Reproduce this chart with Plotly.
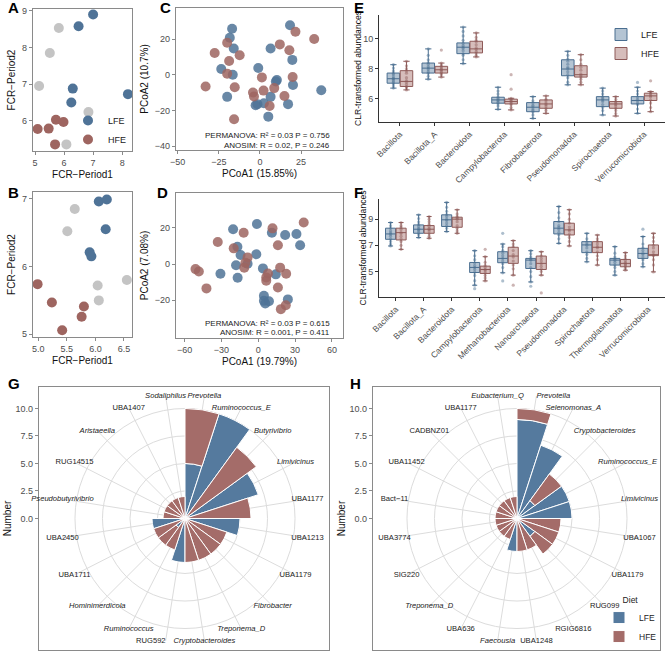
import plotly.graph_objects as go

W, H = 666, 653
BLUE = "#4F7397"
BROWN = "#9E6560"
GRAY = "#C4C4C4"
BAR_BLUE = "#557A9E"
BAR_BROWN = "#A46C69"
FONT = "Liberation Sans, Arial, sans-serif"

# ---------------- Panel A ----------------
A_lfe_x = [7.0, 6.5, 6.3, 6.25, 8.2]
A_lfe_y = [8.9, 8.58, 6.88, 6.5, 6.73]
A_mid_x = [5.82, 5.51, 5.14, 6.84, 6.08]
A_mid_y = [8.53, 7.85, 6.95, 6.24, 5.36]
A_hfe_x = [5.72, 5.98, 5.09, 5.47, 5.69]
A_hfe_y = [6.03, 5.97, 5.78, 5.79, 5.36]

# ---------------- Panel B ----------------
B_lfe_x = [6.06, 6.20, 6.18, 5.90, 5.93]
B_lfe_y = [6.96, 6.99, 6.55, 6.21, 6.15]
B_mid_x = [5.64, 5.51, 6.04, 6.06, 6.55]
B_mid_y = [6.85, 6.52, 5.72, 5.50, 5.80]
B_hfe_x = [4.99, 5.24, 5.80, 5.76, 5.42]
B_hfe_y = [5.74, 5.47, 5.41, 5.26, 5.06]

# ---------------- Panel C ----------------
C_lfe_x = [-16.9, -18.3, -15.9, -23.5, -16.5, -19.9, 18.3, 6.5, 19.7, -1.0, 10.3, 9.7, 20.1, 37.3, 6.5, 2.4, -2.6, -1.5, 17.1, 5.1]
C_lfe_y = [25.8, 20.7, 14.7, 3.2, 0.0, -12.4, 27.7, 14.7, 8.3, 3.8, -3.0, -3.8, -5.8, -8.7, -12.4, -16.0, -17.1, -16.5, -16.5, -23.5]
C_hfe_x = [-33.0, -27.5, -19.9, -18.7, -19.9, -12.3, -15.3, -15.7, -4.2, -3.6, 1.2, 2.2, 8.7, 5.9, 12.1, 17.9, 21.6, 33.0, 19.9, 14.9]
C_hfe_y = [-6.6, 12.2, 17.9, 7.7, 0.6, 10.9, -7.0, -25.0, -10.0, -12.2, -1.5, -8.9, -7.5, -17.5, 17.0, 13.7, 24.1, 20.0, -1.3, -11.9]

# ---------------- Panel D ----------------
D_lfe_x = [-20.5, -1.1, -17.0, -14.4, -18.1, -16.8, -30.8, -8.7, -1.6, 3.8, 11.1, 21.9, 31.1, 34.1, 14.3, 4.6, 4.6, 5.7, 8.7, 24.1]
D_lfe_y = [19.3, 22.2, 9.6, 5.0, -0.7, -7.6, -5.4, 0.2, 5.4, -2.4, 17.4, 16.1, 16.7, 10.4, -5.7, -17.6, -20.4, -21.9, -20.6, -19.6]
D_hfe_x = [-51.1, -48.4, -42.2, -33.0, -20.0, -11.9, -8.7, -10.5, -11.4, 11.6, 16.0, 37.0, 7.9, 6.5, 6.5, 17.8, 22.7, 16.0, 22.4, 18.4]
D_hfe_y = [-2.8, -4.1, -13.5, 12.2, 8.7, 17.4, 3.7, 0.7, -2.0, 19.8, 10.4, 23.0, -5.2, -7.4, -9.3, -2.0, -5.4, -13.0, -22.8, -25.0]

# ---------------- Panel E ----------------
E_cats = ["Bacillota", "Bacillota_A", "Bacteroidota", "Campylobacterota",
          "Fibrobacterota", "Pseudomonadota", "Spirochaetota", "Verrucomicrobiota"]
E_L_q1 = [7.03, 7.71, 9.01, 5.69, 5.12, 7.53, 5.46, 5.64]
E_L_med = [7.33, 8.04, 9.44, 5.91, 5.42, 7.98, 5.91, 5.87]
E_L_q3 = [7.71, 8.38, 9.73, 6.09, 5.73, 8.60, 6.13, 6.13]
E_L_lo = [6.70, 7.30, 8.34, 5.28, 4.67, 6.92, 4.90, 5.01]
E_L_hi = [8.27, 9.33, 10.79, 6.76, 6.13, 9.17, 6.70, 6.76]
E_H_q1 = [6.81, 7.71, 9.06, 5.64, 5.35, 7.44, 5.35, 5.87]
E_H_med = [7.15, 7.93, 9.33, 5.80, 5.64, 7.60, 5.64, 6.18]
E_H_q3 = [7.87, 8.16, 9.84, 5.96, 5.91, 8.20, 5.80, 6.36]
E_H_lo = [6.58, 7.44, 8.79, 5.24, 5.01, 6.92, 4.83, 5.12]
E_H_hi = [8.50, 8.38, 10.40, 6.02, 6.18, 8.94, 6.13, 6.47]
E_L_pts = [
    [6.70, 6.85, 7.0, 7.1, 7.2, 7.3, 7.35, 7.45, 7.6, 7.7, 7.85, 8.05, 8.27],
    [7.30, 7.5, 7.7, 7.8, 7.95, 8.05, 8.15, 8.3, 8.4, 8.6, 8.9, 9.33],
    [8.34, 8.6, 8.9, 9.0, 9.2, 9.35, 9.45, 9.55, 9.7, 9.9, 10.2, 10.5, 10.79],
    [5.28, 5.5, 5.65, 5.75, 5.85, 5.9, 6.0, 6.1, 6.3, 6.5, 6.76],
    [4.67, 4.9, 5.1, 5.2, 5.3, 5.45, 5.55, 5.7, 5.85, 6.13],
    [6.92, 7.1, 7.4, 7.6, 7.8, 8.0, 8.1, 8.3, 8.5, 8.65, 8.9, 9.17],
    [4.90, 5.2, 5.4, 5.6, 5.8, 5.9, 6.0, 6.1, 6.3, 6.5, 6.70],
    [5.01, 5.3, 5.6, 5.7, 5.85, 5.95, 6.1, 6.3, 6.5, 6.76, 7.08],
]
E_H_pts = [
    [6.58, 6.7, 6.8, 6.95, 7.1, 7.2, 7.4, 7.7, 7.85, 8.0, 8.2, 8.5],
    [7.44, 7.6, 7.7, 7.8, 7.9, 7.95, 8.05, 8.15, 8.25, 8.38, 9.25],
    [8.79, 8.9, 9.05, 9.15, 9.3, 9.4, 9.6, 9.8, 9.9, 10.1, 10.4],
    [5.24, 5.4, 5.6, 5.7, 5.8, 5.85, 5.95, 6.02, 6.63, 7.6],
    [5.01, 5.2, 5.35, 5.5, 5.6, 5.7, 5.85, 5.95, 6.18],
    [6.92, 7.1, 7.3, 7.45, 7.55, 7.65, 7.9, 8.1, 8.3, 8.6, 8.94],
    [4.83, 5.0, 5.2, 5.35, 5.5, 5.6, 5.7, 5.8, 5.95, 6.13],
    [5.12, 5.4, 5.7, 5.9, 6.1, 6.2, 6.3, 6.4, 6.47, 7.19],
]

# ---------------- Panel F ----------------
F_cats = ["Bacillota", "Bacillota_A", "Bacteroidota", "Campylobacterota", "Methanobacteriota",
          "Nanoarchaeota", "Pseudomonadota", "Spirochaetota", "Thermoplasmatota", "Verrucomicrobiota"]
F_L_q1 = [7.46, 7.92, 8.44, 4.92, 5.67, 5.23, 7.87, 6.44, 5.49, 6.00]
F_L_med = [7.87, 8.23, 8.95, 5.31, 6.00, 5.87, 8.31, 7.03, 5.87, 6.38]
F_L_q3 = [8.31, 8.56, 9.33, 5.69, 6.51, 6.00, 8.82, 7.28, 6.00, 6.77]
F_L_lo = [6.95, 7.59, 8.05, 3.95, 4.90, 4.20, 7.15, 5.74, 4.72, 5.36]
F_L_hi = [8.74, 9.33, 10.28, 6.59, 7.10, 6.59, 9.97, 7.92, 6.90, 7.67]
F_H_q1 = [7.41, 7.92, 8.38, 4.85, 5.62, 5.15, 7.79, 6.44, 5.36, 6.21]
F_H_med = [7.97, 8.23, 9.00, 5.15, 6.18, 5.62, 8.18, 6.85, 5.62, 6.26]
F_H_q3 = [8.31, 8.51, 9.15, 5.41, 6.85, 6.18, 8.69, 7.28, 5.92, 7.03]
F_H_lo = [6.69, 7.54, 7.92, 4.28, 4.72, 4.72, 6.95, 5.49, 5.10, 4.97]
F_H_hi = [8.74, 9.20, 9.72, 6.13, 7.36, 6.51, 9.72, 7.79, 6.44, 7.92]
F_L_pts = [
    [6.95, 7.1, 7.3, 7.5, 7.7, 7.85, 7.95, 8.1, 8.3, 8.5, 8.74],
    [7.59, 7.8, 7.95, 8.1, 8.2, 8.3, 8.45, 8.6, 8.8, 9.05, 9.33],
    [8.05, 8.3, 8.5, 8.7, 8.9, 9.0, 9.2, 9.35, 9.6, 9.9, 10.28],
    [3.69, 3.95, 4.3, 4.7, 4.95, 5.15, 5.3, 5.45, 5.65, 5.9, 6.2, 6.59],
    [4.28, 4.90, 5.3, 5.6, 5.8, 6.0, 6.2, 6.4, 6.6, 6.9, 7.10, 7.92],
    [3.87, 4.2, 4.6, 5.0, 5.3, 5.6, 5.85, 5.95, 6.1, 6.35, 6.59],
    [7.15, 7.5, 7.8, 8.0, 8.2, 8.35, 8.5, 8.8, 9.1, 9.5, 9.97],
    [5.74, 6.0, 6.3, 6.5, 6.8, 7.0, 7.1, 7.25, 7.5, 7.92],
    [4.72, 5.0, 5.3, 5.5, 5.7, 5.85, 5.95, 6.1, 6.4, 6.9],
    [5.36, 5.6, 5.9, 6.1, 6.3, 6.4, 6.6, 6.8, 7.1, 7.67, 8.23],
]
F_H_pts = [
    [6.69, 7.0, 7.3, 7.5, 7.7, 7.9, 8.0, 8.2, 8.35, 8.5, 8.74],
    [7.54, 7.7, 7.9, 8.1, 8.2, 8.3, 8.45, 8.6, 8.8, 9.0, 9.20],
    [7.92, 8.1, 8.3, 8.5, 8.8, 9.0, 9.1, 9.2, 9.4, 9.72],
    [4.28, 4.5, 4.7, 4.9, 5.05, 5.15, 5.3, 5.45, 5.7, 6.13, 6.69],
    [3.95, 4.72, 5.2, 5.5, 5.8, 6.1, 6.3, 6.6, 6.9, 7.1, 7.36],
    [3.36, 4.72, 5.0, 5.2, 5.4, 5.6, 5.8, 6.0, 6.2, 6.51],
    [6.95, 7.3, 7.6, 7.85, 8.1, 8.2, 8.4, 8.7, 9.0, 9.4, 9.72],
    [5.49, 5.9, 6.2, 6.5, 6.8, 6.9, 7.1, 7.3, 7.5, 7.79],
    [5.10, 5.25, 5.4, 5.5, 5.6, 5.7, 5.85, 6.0, 6.2, 6.44],
    [4.97, 5.5, 5.9, 6.2, 6.3, 6.5, 6.8, 7.0, 7.3, 7.6, 7.92],
]

# ---------------- Panel G ----------------
G_genera = ["Prevotella", "Ruminococcus_E", "Butyrivibrio", "Limivicinus", "UBA1177",
            "UBA1213", "UBA1179", "Fibrobacter", "Treponema_D", "Cryptobacteroides",
            "RUG592", "Ruminococcus", "Hominimerdicola", "UBA1711", "UBA2450",
            "Pseudobutyrivibrio", "RUG14515", "Aristaeella", "UBA1407", "Sodaliphilus"]
G_italic = [True, True, True, True, False, False, False, True, True, True,
            False, True, True, False, False, True, False, True, False, True]
G_lfe = [5, 10, 0, 7, 0, 5, 0, 0, 0, 0, 4, 0, 1, 0, 3, 0, 0, 0, 0, 0]
G_hfe = [5, 0, 8, 0, 6, 0, 4, 4, 4, 4, 0, 3, 2, 3, 0, 2, 2, 2, 2, 2]

# ---------------- Panel H ----------------
H_genera = ["Prevotella", "Selenomonas_A", "Cryptobacteroides", "Ruminococcus_E", "Limivicinus",
            "UBA1067", "UBA1179", "RUG099", "RGIG6816", "UBA1248",
            "Faecousia", "UBA636", "Treponema_D", "SIG220", "UBA3774",
            "Bact\u221211", "UBA11452", "CADBNZ01", "UBA1177", "Eubacterium_Q"]
H_italic = [True, True, True, True, True, False, False, False, False, False,
            True, False, True, False, False, False, False, False, False, True]
H_lfe = [9, 7, 2, 5, 5, 0, 0, 2, 0, 0, 3, 0, 0, 0, 0, 0, 0, 0, 0, 0]
H_hfe = [1, 0, 3, 0, 0, 4, 4, 2, 3, 3, 0, 2, 2, 2, 2, 2, 2, 2, 2, 2]

R_TICKS = [0, 2.5, 5, 7.5, 10]
R_TICKTEXT = ["0.0", "2.5", "5.0", "7.5", "10.0"]
R_MAX = 11.27   # label circle (ggplot 0.45 radius)
R_PX = 124      # pixel radius of the label circle

# label alignment tweaks for crowded labels next to the vertical axis
G_textpos = ["middle center"] * 20
G_textpos[10] = "middle left"
H_textpos = ["middle center"] * 20
H_textpos[0] = "middle right"


def dx(a, b):
    return [a / W, b / W]


def dy(top, bot):
    return [1 - bot / H, 1 - top / H]


fig = go.Figure()

# ---- scatter panels A, B ----
for xa, ya, lx, ly, mx, my, hx, hy, leg in [
        ("x", "y", A_lfe_x, A_lfe_y, A_mid_x, A_mid_y, A_hfe_x, A_hfe_y, True),
        ("x2", "y2", B_lfe_x, B_lfe_y, B_mid_x, B_mid_y, B_hfe_x, B_hfe_y, False)]:
    fig.add_trace(go.Scatter(x=mx, y=my, mode="markers", xaxis=xa, yaxis=ya, showlegend=False,
                             marker=dict(size=10, color=GRAY)))
    fig.add_trace(go.Scatter(x=lx, y=ly, mode="markers", xaxis=xa, yaxis=ya, name="LFE",
                             showlegend=leg, legend="legend",
                             marker=dict(size=10, color=BLUE)))
    fig.add_trace(go.Scatter(x=hx, y=hy, mode="markers", xaxis=xa, yaxis=ya, name="HFE",
                             showlegend=leg, legend="legend",
                             marker=dict(size=10, color=BROWN)))

# ---- PCoA panels C, D ----
for xa, ya, lx, ly, hx, hy in [("x3", "y3", C_lfe_x, C_lfe_y, C_hfe_x, C_hfe_y),
                               ("x4", "y4", D_lfe_x, D_lfe_y, D_hfe_x, D_hfe_y)]:
    fig.add_trace(go.Scatter(x=lx, y=ly, mode="markers", xaxis=xa, yaxis=ya, showlegend=False,
                             marker=dict(size=10, color=BLUE, opacity=0.85)))
    fig.add_trace(go.Scatter(x=hx, y=hy, mode="markers", xaxis=xa, yaxis=ya, showlegend=False,
                             marker=dict(size=10, color=BROWN, opacity=0.85)))

# ---- boxplot panels E, F ----
OFF = 0.1875
BW = 0.36


def add_boxes(cats, stats_l, stats_h, pts_l, pts_h, xa, ya, leg):
    idx = list(range(1, len(cats) + 1))
    for name, stats, pts, sign, lc, fc in [
            ("LFE", stats_l, pts_l, -1, "#4A6E90", "rgba(88,124,158,0.45)"),
            ("HFE", stats_h, pts_h, 1, "#8E5A58", "rgba(164,108,105,0.45)")]:
        q1, med, q3, lo, hi = stats
        xs = [i + sign * OFF for i in idx]
        fig.add_trace(go.Box(x=xs, q1=q1, median=med, q3=q3, lowerfence=lo, upperfence=hi,
                             width=BW, fillcolor=fc, line=dict(color=lc, width=1),
                             boxpoints=False, name=name, xaxis=xa, yaxis=ya,
                             showlegend=leg, legend="legend2", hoverinfo="skip"))
        px, py = [], []
        for i, vals in zip(idx, pts):
            for v in vals:
                px.append(i + sign * OFF)
                py.append(v)
        fig.add_trace(go.Scatter(x=px, y=py, mode="markers", xaxis=xa, yaxis=ya, showlegend=False,
                                 marker=dict(size=3.2, color=lc, opacity=0.45), hoverinfo="skip"))


add_boxes(E_cats, (E_L_q1, E_L_med, E_L_q3, E_L_lo, E_L_hi),
          (E_H_q1, E_H_med, E_H_q3, E_H_lo, E_H_hi), E_L_pts, E_H_pts, "x5", "y5", True)
add_boxes(F_cats, (F_L_q1, F_L_med, F_L_q3, F_L_lo, F_L_hi),
          (F_H_q1, F_H_med, F_H_q3, F_H_lo, F_H_hi), F_L_pts, F_H_pts, "x6", "y6", False)

# ---- frames + radial scale for the polar panels (empty cartesian subplots) ----
for xa, ya in [("x7", "y7"), ("x8", "y8")]:
    fig.add_trace(go.Scatter(x=[None], y=[None], xaxis=xa, yaxis=ya, mode="markers",
                             showlegend=False, hoverinfo="skip"))

# ---- polar panels G, H ----
for sub, genera, italic, lfe, hfe, tpos, leg in [
        ("polar", G_genera, G_italic, G_lfe, G_hfe, G_textpos, False),
        ("polar2", H_genera, H_italic, H_lfe, H_hfe, H_textpos, True)]:
    n = len(genera)
    step = 360 / n
    theta = [(i + 0.5) * step for i in range(n)]
    fig.add_trace(go.Barpolar(r=lfe, theta=theta, width=step, subplot=sub, name="LFE",
                              marker=dict(color=BAR_BLUE, line=dict(color="white", width=1)),
                              showlegend=leg, legend="legend3", hoverinfo="skip"))
    fig.add_trace(go.Barpolar(r=hfe, theta=theta, width=step, subplot=sub, name="HFE",
                              marker=dict(color=BAR_BROWN, line=dict(color="white", width=1)),
                              showlegend=leg, legend="legend3", hoverinfo="skip"))
    labels = [("<i>%s</i>" % g) if it else g for g, it in zip(genera, italic)]
    fig.add_trace(go.Scatterpolar(r=[R_MAX] * n, theta=theta, mode="text", text=labels,
                                  textposition=tpos,
                                  textfont=dict(size=7.6, color="#222", family=FONT),
                                  subplot=sub, showlegend=False, cliponaxis=False,
                                  hoverinfo="skip"))

# ---------------- layout ----------------
tickfont = dict(size=9, color="#4d4d4d", family=FONT)
titlefont = dict(size=10, color="#111", family=FONT)


def box_axis(dom, rng, tickvals, ticktext=None, title=None, anchor=None, standoff=4):
    d = dict(domain=dom, range=rng, showgrid=False, zeroline=False, showline=True, mirror=True,
             linecolor="#8a8a8a", linewidth=1.2, ticks="outside", ticklen=3, tickcolor="#8a8a8a",
             tickfont=tickfont, tickmode="array", tickvals=tickvals, anchor=anchor)
    if ticktext is not None:
        d["ticktext"] = ticktext
    if title:
        d["title"] = dict(text=title, font=titlefont, standoff=standoff)
    return d


def classic_axis(dom, rng, tickvals, ticktext=None, title=None, anchor=None, angle=None,
                 tsize=9):
    d = dict(domain=dom, range=rng, showgrid=False, zeroline=False, showline=True, mirror=False,
             linecolor="#333", linewidth=1, ticks="outside", ticklen=3, tickcolor="#333",
             tickfont=dict(size=tsize, color="#4d4d4d", family=FONT), tickmode="array",
             tickvals=tickvals, anchor=anchor)
    if ticktext is not None:
        d["ticktext"] = ticktext
    if angle is not None:
        d["tickangle"] = angle
    if title:
        d["title"] = dict(text=title, font=dict(size=8.6, color="#111", family=FONT), standoff=0)
    return d


ppu = R_PX / R_MAX  # pixels per radial unit
G_CY = 518.5
BOX_TOP, BOX_BOT = 387, 650

layout = dict(
    width=W, height=H, autosize=False, margin=dict(l=0, r=0, t=0, b=0, autoexpand=False),
    paper_bgcolor="white", plot_bgcolor="rgba(0,0,0,0)", font=dict(family=FONT),
    xaxis=box_axis(dx(33, 132), [4.93, 8.34], [5, 6, 7, 8], title="FCR\u2212Period1", anchor="y"),
    yaxis=box_axis(dy(9, 151), [5.18, 9.05], [6, 7, 8, 9], title="FCR\u2212Period2", anchor="x"),
    xaxis2=box_axis(dx(33, 132), [4.91, 6.64], [5.0, 5.5, 6.0, 6.5], ["5.0", "5.5", "6.0", "6.5"],
                    title="FCR\u2212Period1", anchor="y2"),
    yaxis2=box_axis(dy(192, 337), [4.96, 7.1], [5, 6, 7], title="FCR\u2212Period2", anchor="x2"),
    xaxis3=box_axis(dx(176, 343), [-51, 50.5], [-50, -25, 0, 25], title="PCoA1 (15.85%)", anchor="y3"),
    yaxis3=box_axis(dy(8, 150), [-42.2, 37.4], [-40, -20, 0, 20], title="PCoA2 (10.7%)", anchor="x3"),
    xaxis4=box_axis(dx(176, 343), [-67, 69], [-60, -30, 0, 30, 60], title="PCoA1 (19.79%)", anchor="y4"),
    yaxis4=box_axis(dy(193, 338), [-41, 39.4], [-20, 0, 20], title="PCoA2 (7.08%)", anchor="x4"),
    xaxis5=classic_axis(dx(379, 665), [0.4, 8.6], list(range(1, len(E_cats) + 1)), E_cats,
                        anchor="y5", angle=-45, tsize=8.5),
    yaxis5=classic_axis(dy(15, 122), [4.43, 11.6], [6, 8, 10], title="CLR-transformed abundances",
                        anchor="x5"),
    xaxis6=classic_axis(dx(379, 665), [0.4, 10.6], list(range(1, len(F_cats) + 1)), F_cats,
                        anchor="y6", angle=-45, tsize=8.5),
    yaxis6=classic_axis(dy(199, 297), [3.05, 10.54], [5, 7, 9], title="CLR-transformed abundances",
                        anchor="x6"),
    xaxis7=dict(domain=dx(39, 329), range=[0, 1], showticklabels=False, ticks="", showgrid=False,
                zeroline=False, showline=True, mirror=True, linecolor="#8a8a8a", linewidth=1.2,
                anchor="y7"),
    yaxis7=box_axis(dy(BOX_TOP, BOX_BOT), [-(BOX_BOT - G_CY) / ppu, (G_CY - BOX_TOP) / ppu],
                    R_TICKS, R_TICKTEXT, title="Number", anchor="x7", standoff=2),
    xaxis8=dict(domain=dx(373, 660), range=[0, 1], showticklabels=False, ticks="", showgrid=False,
                zeroline=False, showline=True, mirror=True, linecolor="#8a8a8a", linewidth=1.2,
                anchor="y8"),
    yaxis8=box_axis(dy(BOX_TOP, BOX_BOT), [-(BOX_BOT - G_CY) / ppu, (G_CY - BOX_TOP) / ppu],
                    R_TICKS, R_TICKTEXT, title="Number", anchor="x8", standoff=2),
    legend=dict(x=131 / W, y=1 - 154 / H, xanchor="right", yanchor="bottom",
                bgcolor="rgba(255,255,255,0)", font=dict(size=9, color="#222", family=FONT),
                itemwidth=30, tracegroupgap=0),
    legend2=dict(x=664 / W, y=1 - 20 / H, xanchor="right", yanchor="top",
                 bgcolor="rgba(255,255,255,0)", font=dict(size=9, color="#222", family=FONT),
                 itemwidth=30, tracegroupgap=0),
    legend3=dict(x=662 / W, y=1 - 652 / H, xanchor="right", yanchor="bottom",
                 title=dict(text="Diet", side="top center",
                            font=dict(size=8.5, color="#222", family=FONT)),
                 bgcolor="rgba(255,255,255,0)", font=dict(size=8.5, color="#222", family=FONT),
                 itemwidth=30, tracegroupgap=0),
)

for key, cx in [("polar", 185), ("polar2", 517)]:
    layout[key] = dict(
        domain=dict(x=[(cx - R_PX) / W, (cx + R_PX) / W],
                    y=[1 - (G_CY + R_PX) / H, 1 - (G_CY - R_PX) / H]),
        bgcolor="rgba(0,0,0,0)", hole=0, bargap=0, barmode="stack",
        angularaxis=dict(type="linear", thetaunit="degrees", rotation=90, direction="clockwise",
                         tickmode="array", tickvals=[(i + 0.5) * 18 for i in range(20)],
                         showticklabels=False, ticks="", showline=False,
                         gridcolor="#dcdcdc", gridwidth=1),
        radialaxis=dict(range=[0, R_MAX], tickmode="array", tickvals=R_TICKS,
                        showticklabels=False, ticks="", showline=False,
                        gridcolor="#dcdcdc", gridwidth=1),
    )

fig.update_layout(**layout)

# stats text in C and D
for xr, yr, l1, l2, y1, y2 in [("x3", "y3", "PERMANOVA: R\u00b2 = 0.03 P = 0.756", "ANOSIM: R = 0.02, P = 0.246", 0.10, 0.03),
                               ("x4", "y4", "PERMANOVA: R\u00b2 = 0.03 P = 0.615", "ANOSIM: R = 0.001, P = 0.411", 0.10, 0.04)]:
    for txt, yy in [(l1, y1), (l2, y2)]:
        fig.add_annotation(text=txt, xref=xr + " domain", yref=yr + " domain", x=0.934, y=yy,
                           xanchor="right", yanchor="middle", showarrow=False,
                           font=dict(size=8, color="#222", family=FONT))

# panel letters
for letter, px, py in [("A", 6, 8), ("B", 6, 192), ("C", 158, 8), ("D", 155, 192),
                       ("E", 352, 8), ("F", 352, 192), ("G", 6, 383), ("H", 348, 383)]:
    fig.add_annotation(text="<b>%s</b>" % letter, xref="paper", yref="paper", x=px / W, y=1 - py / H,
                       xanchor="left", yanchor="middle", showarrow=False,
                       font=dict(size=15, color="black", family=FONT))

fig.write_html("out.html")
